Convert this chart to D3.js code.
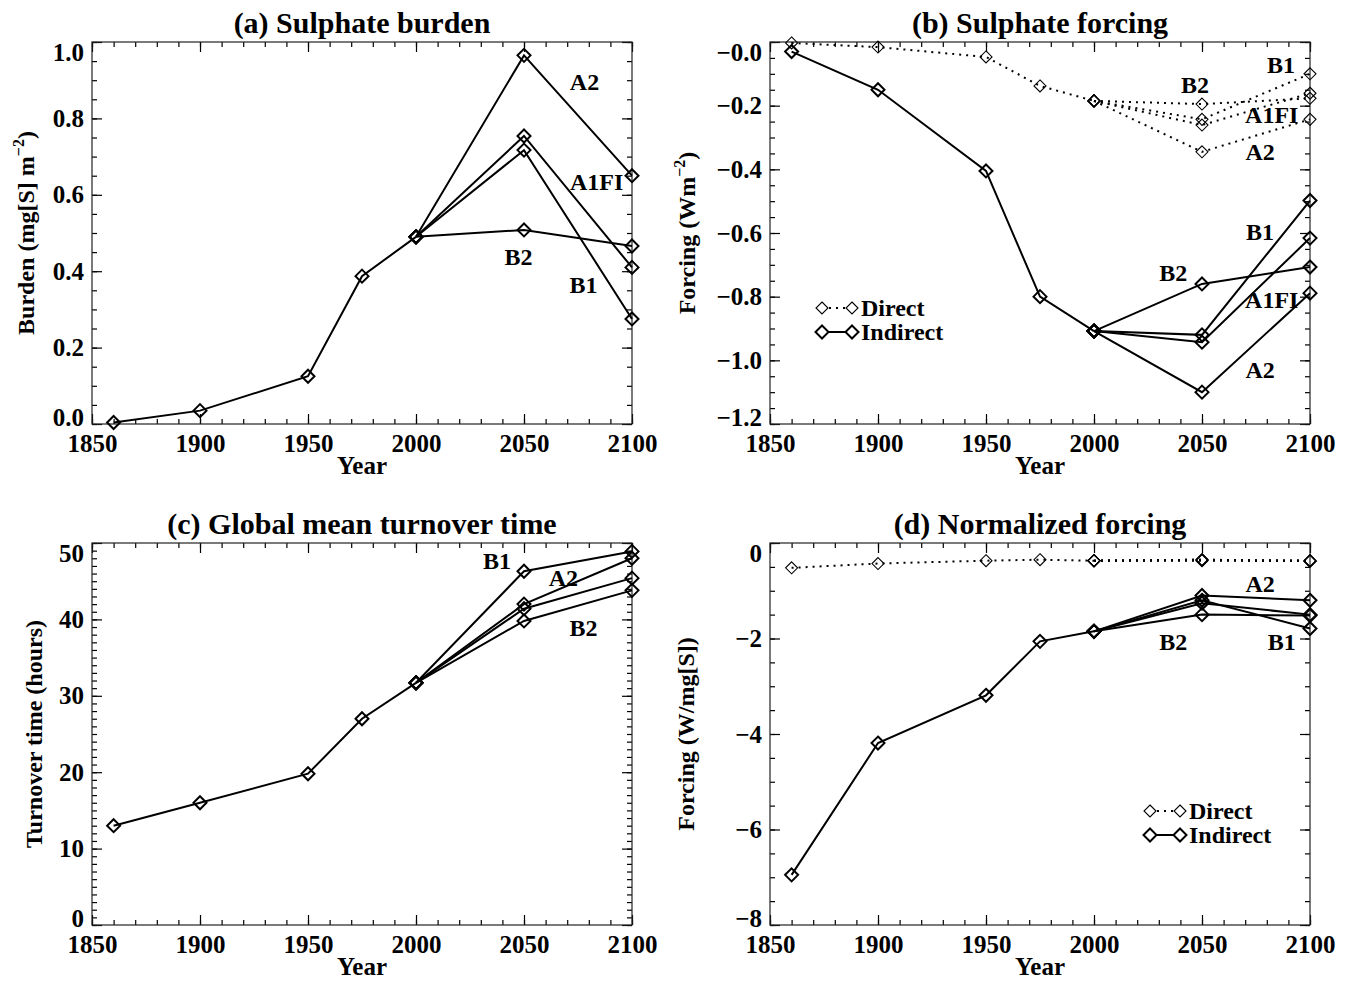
<!DOCTYPE html>
<html>
<head>
<meta charset="utf-8">
<script src="https://cdn.jsdelivr.net/npm/d3@7"></script>
<style>
  body { margin: 0; background: #fff; }
  svg text { font-family: "Liberation Serif", "Times New Roman", serif; font-weight: bold; fill: #000; }
</style>
</head>
<body>
<svg id="chart" width="1348" height="981"></svg>
<script>
const scenarios = ['A2', 'A1FI', 'B1', 'B2'];
const histYears = [1860, 1900, 1950, 1975, 2000];
const futureYears = [2000, 2050, 2100];
const xTicks = [1850, 1900, 1950, 2000, 2050, 2100];

// (a) sulphate burden, mg[S] m-2  (future rows follow `scenarios`)
const burdenHist = [0.004, 0.035, 0.125, 0.387, 0.49];
const burdenFuture = [[0.965, 0.65], [0.754, 0.41], [0.717, 0.275], [0.508, 0.466]];

// (b) forcing, W m-2
const directHist = [-0.003, -0.016, -0.047, -0.138, -0.185];
const directFuture = [[-0.345, -0.243], [-0.261, -0.161], [-0.243, -0.10], [-0.195, -0.177]];
const indirectHist = [-0.03, -0.15, -0.405, -0.80, -0.908];
const indirectFuture = [[-1.10, -0.789], [-0.943, -0.616], [-0.92, -0.498], [-0.76, -0.707]];

// (c) turnover time, hours
const turnoverHist = [13, 16, 19.8, 27, 31.7];
const turnoverFuture = [[42.0, 48.0], [41.4, 45.4], [46.3, 48.9], [39.8, 43.8]];

// (d) normalized forcing, W/mg[S]
const normDirectHist = [-0.52, -0.43, -0.37, -0.35, -0.37];
const normDirectFuture = [[-0.36, -0.37], [-0.35, -0.38], [-0.35, -0.37], [-0.37, -0.38]];
const normIndirectHist = [-6.95, -4.19, -3.19, -2.06, -1.85];
const normIndirectFuture = [[-1.10, -1.20], [-1.26, -1.50], [-1.20, -1.79], [-1.50, -1.52]];

// scenario labels: [text, year, value]
const labelsA = [['A2', 2078, 0.896], ['A1FI', 2083.6, 0.634], ['B2', 2047.4, 0.438], ['B1', 2077.5, 0.364]];
const labelsB = [['B1', 2086.6, -0.072], ['B2', 2046.8, -0.135], ['A1FI', 2082.3, -0.229], ['A2', 2076.9, -0.345],
                 ['B1', 2076.9, -0.596], ['B2', 2036.7, -0.727], ['A1FI', 2082.3, -0.81], ['A2', 2076.9, -1.03]];
const labelsC = [['B1', 2037.5, 47.7], ['A2', 2068.2, 45.4], ['B2', 2077.5, 38.9]];
const labelsD = [['A2', 2076.9, -0.85], ['B2', 2036.7, -2.07], ['B1', 2086.9, -2.07]];

const W = 540, H = 382;
const svg = d3.select('#chart');
svg.append('rect').attr('width', 1348).attr('height', 981).attr('fill', '#fff');

function toPoints(years, values) {
  return years.map((yr, i) => ({year: yr, value: values[i]}));
}

// one historic line plus one line per scenario starting at 2000
function buildSeries(hist, future) {
  const out = [toPoints(histYears, hist)];
  future.forEach(f => out.push(toPoints(futureYears, [hist[hist.length - 1], ...f])));
  return out;
}

const minusFmt = v => (v <= 0 ? '\u2212' : '') + Math.abs(v).toFixed(1);

const panels = [
  {
    left: 92, top: 42, title: '(a) Sulphate burden',
    yLabel: ['Burden (mg[S] m', '\u22122', ')'], yLabelX: -58,
    yDomain: [0, 1], yTicks: d3.range(0, 6).map(i => i * 0.2), yMinor: d3.range(0, 21).map(i => i * 0.05),
    yFormat: d3.format('.1f'),
    series: [{data: buildSeries(burdenHist, burdenFuture), dotted: false}],
    labels: labelsA
  },
  {
    left: 770, top: 42, title: '(b) Sulphate forcing',
    yLabel: ['Forcing (Wm', '\u22122', ')'], yLabelX: -75,
    yDomain: [-1.2, 0], yTicks: d3.range(0, 7).map(i => -i * 0.2), yMinor: d3.range(0, 25).map(i => -i * 0.05),
    yFormat: minusFmt,
    series: [{data: buildSeries(directHist, directFuture), dotted: true},
             {data: buildSeries(indirectHist, indirectFuture), dotted: false}],
    labels: labelsB, legend: {x: 52, y: 266}
  },
  {
    left: 92, top: 543, title: '(c) Global mean turnover time',
    yLabel: ['Turnover time (hours)'], yLabelX: -50,
    yDomain: [0, 50], yTicks: d3.range(0, 51, 10), yMinor: d3.range(0, 51, 1),
    yFormat: d3.format('d'),
    series: [{data: buildSeries(turnoverHist, turnoverFuture), dotted: false}],
    labels: labelsC
  },
  {
    left: 770, top: 543, title: '(d) Normalized forcing',
    yLabel: ['Forcing (W/mg[S])'], yLabelX: -76,
    yDomain: [-8, 0], yTicks: d3.range(-8, 1, 2), yMinor: d3.range(-8, 0.01, 0.5),
    yFormat: d3.format('d'),
    series: [{data: buildSeries(normDirectHist, normDirectFuture), dotted: true},
             {data: buildSeries(normIndirectHist, normIndirectFuture), dotted: false}],
    labels: labelsD, legend: {x: 380, y: 268}
  }
];

function diamond(s) {
  return `M0,${-s}L${s},0L0,${s}L${-s},0Z`;
}

function styleAxis(sel) {
  sel.select('.domain').remove();
  sel.attr('font-family', null).attr('font-size', 25);
  sel.selectAll('line').attr('stroke', '#000').attr('stroke-width', 1.2);
}

function drawPanel(p) {
  const g = svg.append('g').attr('transform', `translate(${p.left},${p.top})`);
  const x = d3.scaleLinear().domain([1850, 2100]).range([0, W]);
  const y = d3.scaleLinear().domain(p.yDomain).range([H, 0]);
  const xMinor = d3.range(1850, 2101, 10);

  // minor ticks
  g.append('g').attr('transform', `translate(0,${H})`)
    .call(d3.axisBottom(x).tickValues(xMinor).tickSize(-5).tickFormat('')).call(styleAxis);
  g.append('g')
    .call(d3.axisTop(x).tickValues(xMinor).tickSize(-5).tickFormat('')).call(styleAxis);
  g.append('g')
    .call(d3.axisLeft(y).tickValues(p.yMinor).tickSize(-5).tickFormat('')).call(styleAxis);
  g.append('g').attr('transform', `translate(${W},0)`)
    .call(d3.axisRight(y).tickValues(p.yMinor).tickSize(-5).tickFormat('')).call(styleAxis);

  // major ticks
  g.append('g').attr('transform', `translate(0,${H})`)
    .call(d3.axisBottom(x).tickValues(xTicks).tickSize(-10).tickPadding(10).tickFormat(d3.format('d')))
    .call(styleAxis);
  g.append('g')
    .call(d3.axisTop(x).tickValues(xTicks).tickSize(-10).tickFormat('')).call(styleAxis);
  const yAx = g.append('g')
    .call(d3.axisLeft(y).tickValues(p.yTicks).tickSize(-10).tickPadding(8).tickFormat(p.yFormat))
    .call(styleAxis);
  g.append('g').attr('transform', `translate(${W},0)`)
    .call(d3.axisRight(y).tickValues(p.yTicks).tickSize(-10).tickFormat('')).call(styleAxis);

  // end labels sit just inside the frame
  const yMax = p.yDomain[1], yMin = p.yDomain[0];
  yAx.selectAll('.tick text').attr('dy', d => Math.abs(d - yMax) < 1e-9 ? '0.72em' : Math.abs(d - yMin) < 1e-9 ? '0.05em' : '0.32em');

  // frame
  g.append('rect').attr('width', W).attr('height', H)
    .attr('fill', 'none').attr('stroke', '#222').attr('stroke-width', 1.2);

  // title
  g.append('text').attr('x', W / 2).attr('y', -9).attr('text-anchor', 'middle')
    .attr('font-size', 30).text(p.title);

  // axis titles
  g.append('text').attr('x', W / 2).attr('y', H + 50).attr('text-anchor', 'middle')
    .attr('font-size', 25).text('Year');
  const yt = g.append('text').attr('transform', `translate(${p.yLabelX},${H / 2}) rotate(-90)`)
    .attr('text-anchor', 'middle').attr('font-size', 24);
  yt.append('tspan').text(p.yLabel[0]);
  if (p.yLabel.length > 1) {
    yt.append('tspan').attr('font-size', 16).attr('dy', -10).text(p.yLabel[1]);
    yt.append('tspan').attr('dy', 10).text(p.yLabel[2]);
  }

  const line = d3.line().x(d => x(d.year)).y(d => y(d.value));

  p.series.forEach(s => {
    const sg = g.append('g');
    sg.selectAll('path.line').data(s.data).join('path')
      .attr('class', 'line')
      .attr('d', line)
      .attr('fill', 'none').attr('stroke', '#000')
      .attr('stroke-width', 2)
      .attr('stroke-dasharray', s.dotted ? '2,5' : null);
    const pts = s.data.flat();
    sg.selectAll('path.mark').data(pts).join('path')
      .attr('class', 'mark')
      .attr('transform', d => `translate(${x(d.year)},${y(d.value)})`)
      .attr('d', diamond(s.dotted ? 6 : 6.5))
      .attr('fill', 'none').attr('stroke', '#000')
      .attr('stroke-width', s.dotted ? 1.1 : 2);
  });

  g.selectAll('text.scen').data(p.labels).join('text')
    .attr('class', 'scen')
    .attr('x', d => x(d[1])).attr('y', d => y(d[2]))
    .attr('text-anchor', 'middle').attr('dominant-baseline', 'central')
    .attr('font-size', 24).text(d => d[0]);

  if (p.legend) {
    const rows = [{name: 'Direct', dotted: true}, {name: 'Indirect', dotted: false}];
    const lg = g.append('g').attr('transform', `translate(${p.legend.x},${p.legend.y})`);
    rows.forEach((r, i) => {
      const row = lg.append('g').attr('transform', `translate(0,${i * 24})`);
      row.append('line').attr('x1', 0).attr('x2', 30).attr('y1', 0).attr('y2', 0)
        .attr('stroke', '#000').attr('stroke-width', 2)
        .attr('stroke-dasharray', r.dotted ? '2,5' : null);
      [0, 30].forEach(cx => row.append('path').attr('transform', `translate(${cx},0)`)
        .attr('d', diamond(r.dotted ? 6 : 6.5)).attr('fill', '#fff').attr('stroke', '#000')
        .attr('stroke-width', r.dotted ? 1.1 : 2));
      row.append('text').attr('x', 39).attr('y', 0).attr('dominant-baseline', 'central')
        .attr('font-size', 24).text(r.name);
    });
  }
}

panels.forEach(drawPanel);
</script>
</body>
</html>
